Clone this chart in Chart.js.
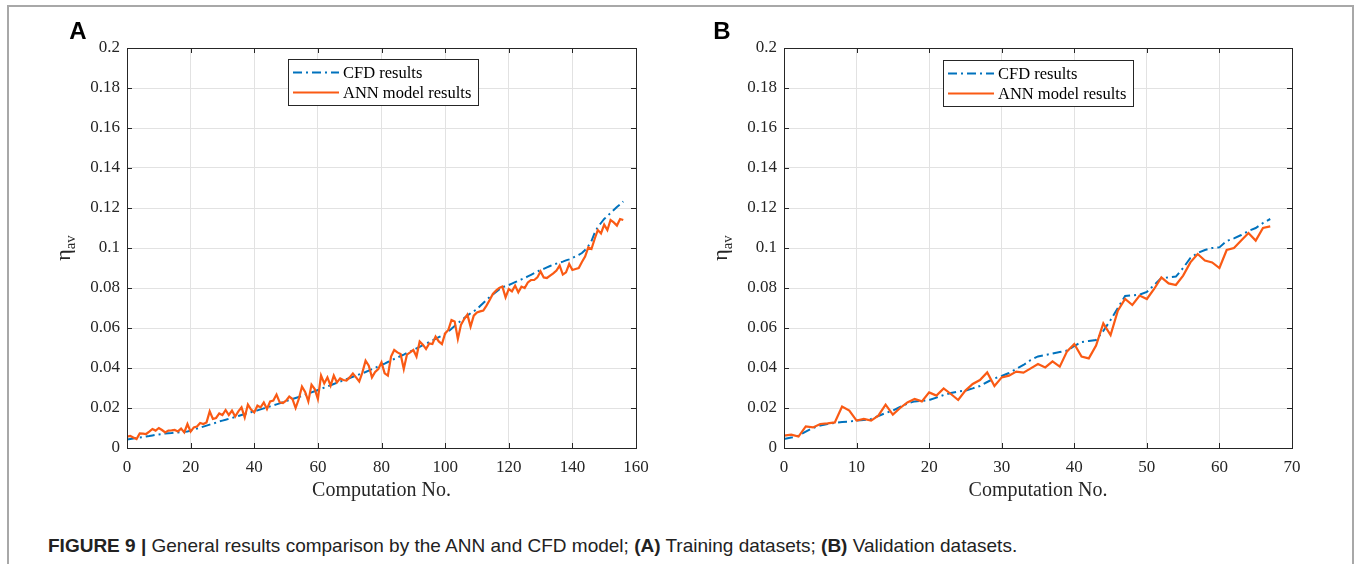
<!DOCTYPE html>
<html>
<head>
<meta charset="utf-8">
<script src="https://cdn.jsdelivr.net/npm/chart.js@4.4.1/dist/chart.umd.min.js"></script>
<style>
  body { margin: 0; background: #fff; width: 1356px; height: 564px; overflow: hidden; position: relative; font-family: "Liberation Sans", Arial, sans-serif; }
  #frame { position: absolute; left: 7px; top: 5px; width: 1343px; height: 620px; border: 2px solid #a8a8a8; }
  #chartA { position: absolute; left: 0; top: 0; }
  #chartB { position: absolute; left: 680px; top: 0; }
  #caption { position: absolute; left: 48px; top: 535px; font-size: 19px; line-height: 22px; color: #222; white-space: nowrap; }
</style>
</head>
<body>
<div id="frame"></div>
<canvas id="chartA" width="680" height="520"></canvas>
<canvas id="chartB" width="676" height="520"></canvas>
<div id="caption"><b>FIGURE 9 |</b> General results comparison by the ANN and CFD model; <b>(A)</b> Training datasets; <b>(B)</b> Validation datasets.</div>

<script>
// Training datasets (panel A), computation no. 0..156
const cfdA = [
  0.0042, 0.0045, 0.0048, 0.0050, 0.0053, 0.0055, 0.0058, 0.0060, 0.0063, 0.0066,
  0.0068, 0.0070, 0.0072, 0.0074, 0.0075, 0.0077, 0.0078, 0.0080, 0.0081, 0.0083,
  0.0087, 0.0092, 0.0097, 0.0102, 0.0107, 0.0112, 0.0117, 0.0122, 0.0127, 0.0133,
  0.0137, 0.0141, 0.0146, 0.0150, 0.0155, 0.0160, 0.0165, 0.0170, 0.0175, 0.0179,
  0.0183, 0.0188, 0.0193, 0.0198, 0.0203, 0.0208, 0.0213, 0.0218, 0.0223, 0.0229,
  0.0235, 0.0240, 0.0245, 0.0250, 0.0255, 0.0260, 0.0266, 0.0272, 0.0278, 0.0284,
  0.0290, 0.0296, 0.0302, 0.0308, 0.0314, 0.0320, 0.0326, 0.0332, 0.0338, 0.0344,
  0.0350, 0.0356, 0.0362, 0.0368, 0.0374, 0.0380, 0.0387, 0.0394, 0.0401, 0.0408,
  0.0415, 0.0422, 0.0430, 0.0437, 0.0445, 0.0452, 0.0460, 0.0467, 0.0475, 0.0482,
  0.0490, 0.0498, 0.0506, 0.0514, 0.0522, 0.0530, 0.0538, 0.0546, 0.0554, 0.0562,
  0.0570, 0.0583, 0.0596, 0.0610, 0.0624, 0.0637, 0.0650, 0.0662, 0.0674, 0.0684,
  0.0694, 0.0710, 0.0725, 0.0740, 0.0755, 0.0768, 0.0780, 0.0793, 0.0803, 0.0810,
  0.0815, 0.0822, 0.0829, 0.0836, 0.0843, 0.0850, 0.0858, 0.0866, 0.0874, 0.0882,
  0.0890, 0.0896, 0.0903, 0.0910, 0.0917, 0.0922, 0.0927, 0.0932, 0.0938, 0.0943,
  0.0950, 0.0958, 0.0966, 0.0975, 0.0990, 0.1010, 0.1035, 0.1075, 0.1105, 0.1125,
  0.1145, 0.1160, 0.1175, 0.1190, 0.1205, 0.1218, 0.1233
];
const annA = [
  0.0057, 0.0060, 0.0052, 0.0045, 0.0073, 0.0072, 0.0070, 0.0082, 0.0095, 0.0087,
  0.0100, 0.0090, 0.0078, 0.0087, 0.0088, 0.0090, 0.0083, 0.0097, 0.0078, 0.0120,
  0.0082, 0.0103, 0.0107, 0.0125, 0.0120, 0.0128, 0.0183, 0.0145, 0.0150, 0.0173,
  0.0165, 0.0190, 0.0165, 0.0187, 0.0157, 0.0183, 0.0203, 0.0153, 0.0217, 0.0192,
  0.0178, 0.0212, 0.0203, 0.0228, 0.0195, 0.0233, 0.0237, 0.0267, 0.0228, 0.0225,
  0.0237, 0.0257, 0.0245, 0.0200, 0.0245, 0.0307, 0.0280, 0.0233, 0.0317, 0.0295,
  0.0245, 0.0362, 0.0323, 0.0353, 0.0312, 0.0362, 0.0328, 0.0348, 0.0340, 0.0337,
  0.0353, 0.0373, 0.0353, 0.0333, 0.0378, 0.0437, 0.0412, 0.0353, 0.0380, 0.0395,
  0.0428, 0.0373, 0.0362, 0.0457, 0.0490, 0.0478, 0.0470, 0.0395, 0.0467, 0.0478,
  0.0490, 0.0457, 0.0533, 0.0517, 0.0495, 0.0523, 0.0520, 0.0557, 0.0533, 0.0520,
  0.0573, 0.0590, 0.0640, 0.0633, 0.0545, 0.0617, 0.0645, 0.0667, 0.0607, 0.0662,
  0.0678, 0.0683, 0.0687, 0.0712, 0.0740, 0.0770, 0.0787, 0.0800, 0.0807, 0.0753,
  0.0795, 0.0783, 0.0812, 0.0778, 0.0807, 0.0800, 0.0828, 0.0840, 0.0840, 0.0853,
  0.0883, 0.0853, 0.0850, 0.0862, 0.0873, 0.0887, 0.0912, 0.0867, 0.0878, 0.0920,
  0.0890, 0.0895, 0.0900, 0.0930, 0.0957, 0.1003, 0.0995, 0.1045, 0.1090, 0.1073,
  0.1117, 0.1090, 0.1140, 0.1128, 0.1112, 0.1145, 0.1140
];

// Validation datasets (panel B), computation no. 0..67
const cfdB = [
  0.0045, 0.0052, 0.0062, 0.0082, 0.0100, 0.0112, 0.0120, 0.0126, 0.0130, 0.0132,
  0.0137, 0.0140, 0.0145, 0.0160, 0.0175, 0.0187, 0.0205, 0.0222, 0.0233, 0.0236,
  0.0240, 0.0252, 0.0265, 0.0275, 0.0282, 0.0287, 0.0298, 0.0310, 0.0330, 0.0348,
  0.0360, 0.0375, 0.0395, 0.0415, 0.0440, 0.0458, 0.0465, 0.0472, 0.0480, 0.0487,
  0.0510, 0.0530, 0.0535, 0.0540, 0.0585, 0.0640, 0.0700, 0.0760, 0.0763, 0.0767,
  0.0780, 0.0815, 0.0850, 0.0853, 0.0857, 0.0900, 0.0950, 0.0975, 0.0990, 0.1000,
  0.1003, 0.1035, 0.1048, 0.1065, 0.1085, 0.1100, 0.1125, 0.1145
];
const annB = [
  0.0062, 0.0067, 0.0057, 0.0108, 0.0103, 0.0120, 0.0123, 0.0128, 0.0207, 0.0187,
  0.0137, 0.0145, 0.0137, 0.0162, 0.0217, 0.0167, 0.0200, 0.0228, 0.0245, 0.0233,
  0.0278, 0.0262, 0.0298, 0.0270, 0.0240, 0.0287, 0.0320, 0.0340, 0.0378, 0.0310,
  0.0353, 0.0362, 0.0382, 0.0377, 0.0398, 0.0420, 0.0403, 0.0433, 0.0407, 0.0483,
  0.0520, 0.0457, 0.0448, 0.0512, 0.0623, 0.0565, 0.0687, 0.0745, 0.0715, 0.0762,
  0.0745, 0.0795, 0.0853, 0.0823, 0.0815, 0.0862, 0.0928, 0.0970, 0.0937, 0.0928,
  0.0900, 0.0990, 0.1000, 0.1037, 0.1075, 0.1037, 0.1100, 0.1108
];

const seriesLabels = ['CFD results', 'ANN model results'];
const xTitle = 'Computation No.';

const serif = '"Liberation Serif", "Times New Roman", serif';
const axisColor = '#262626';

// MATLAB-style box, inward ticks, legend, axis titles and panel letter
const panelPlugin = {
    id: 'panel',
    afterDraw(chart, args, o) {
        const { ctx, chartArea: a, scales: { x, y } } = chart;
        ctx.save();

        ctx.strokeStyle = axisColor;
        ctx.lineWidth = 1;
        ctx.beginPath();
        x.ticks.forEach(t => {
            const p = Math.round(x.getPixelForValue(t.value)) + 0.5;
            ctx.moveTo(p, a.bottom); ctx.lineTo(p, a.bottom - 5);
            ctx.moveTo(p, a.top); ctx.lineTo(p, a.top + 5);
        });
        y.ticks.forEach(t => {
            const p = Math.round(y.getPixelForValue(t.value)) + 0.5;
            ctx.moveTo(a.left, p); ctx.lineTo(a.left + 5, p);
            ctx.moveTo(a.right, p); ctx.lineTo(a.right - 5, p);
        });
        ctx.stroke();
        ctx.strokeRect(Math.round(a.left) + 0.5, Math.round(a.top) + 0.5, Math.round(a.width), Math.round(a.height));

        // legend
        const L = o.legend;
        ctx.fillStyle = '#fff';
        ctx.fillRect(L.x, L.y, L.w, L.h);
        ctx.strokeStyle = axisColor;
        ctx.strokeRect(L.x + 0.5, L.y + 0.5, L.w, L.h);
        chart.data.datasets.forEach((ds, i) => {
            const ry = L.y + 13.5 + i * 20;
            ctx.beginPath();
            ctx.setLineDash(ds.borderDash || []);
            ctx.strokeStyle = ds.borderColor;
            ctx.lineWidth = ds.borderWidth;
            ctx.moveTo(L.x + 5, ry);
            ctx.lineTo(L.x + 51, ry);
            ctx.stroke();
            ctx.setLineDash([]);
            ctx.fillStyle = '#000';
            ctx.font = '16.5px ' + serif;
            ctx.textAlign = 'left';
            ctx.textBaseline = 'middle';
            ctx.fillText(ds.label, L.x + 55, ry + 1);
        });

        // x axis title
        ctx.fillStyle = axisColor;
        ctx.font = '20px ' + serif;
        ctx.textAlign = 'center';
        ctx.textBaseline = 'middle';
        ctx.fillText(xTitle, (a.left + a.right) / 2, 491);

        // y axis title: eta with "av" subscript
        ctx.save();
        ctx.translate(o.yTitleX, (a.top + a.bottom) / 2);
        ctx.rotate(-Math.PI / 2);
        ctx.textBaseline = 'alphabetic';
        ctx.textAlign = 'left';
        ctx.font = '22px ' + serif;
        const wEta = ctx.measureText('η').width;
        ctx.font = '15px ' + serif;
        const wSub = ctx.measureText('av').width;
        const x0 = -(wEta + wSub) / 2;
        ctx.font = '22px ' + serif;
        ctx.fillText('η', x0, 0);
        ctx.font = '15px ' + serif;
        ctx.fillText('av', x0 + wEta, 5);
        ctx.restore();

        // panel letter
        ctx.fillStyle = '#000';
        ctx.font = 'bold 24px "Liberation Sans", Arial, sans-serif';
        ctx.textAlign = 'center';
        ctx.textBaseline = 'middle';
        ctx.fillText(o.letter, o.letterX, 32);

        ctx.restore();
    }
};

function makePanel(id, cfd, ann, p) {
    const ctx = document.getElementById(id).getContext('2d');
    return new Chart(ctx, {
        type: 'line',
        data: {
            datasets: [{
                label: seriesLabels[0],
                data: cfd.map((v, i) => ({ x: i, y: v })),
                borderColor: '#0072BD',
                borderWidth: 2,
                borderDash: [9, 4, 2, 4],
                pointRadius: 0,
                tension: 0,
                order: 1
            }, {
                label: seriesLabels[1],
                data: ann.map((v, i) => ({ x: i, y: v })),
                borderColor: '#FA5A14',
                borderWidth: 2.2,
                pointRadius: 0,
                tension: 0,
                order: 0
            }]
        },
        options: {
            responsive: false,
            animation: false,
            layout: { padding: { left: 0, top: 48, right: p.padRight, bottom: 42 } },
            plugins: {
                legend: { display: false },
                tooltip: { enabled: false },
                panel: p
            },
            scales: {
                x: {
                    type: 'linear',
                    min: 0,
                    max: p.xMax,
                    ticks: { stepSize: p.xStep, color: axisColor, font: { family: serif, size: 17 }, padding: 9, maxRotation: 0, autoSkip: false },
                    grid: { color: '#e2e2e2', drawTicks: false },
                    border: { display: false },
                    afterFit: s => { s.height = 30; }
                },
                y: {
                    min: 0,
                    max: 0.2,
                    ticks: {
                        stepSize: 0.02,
                        color: axisColor,
                        font: { family: serif, size: 17 },
                        padding: 7,
                        callback: v => String(parseFloat(v.toFixed(2)))
                    },
                    grid: { color: '#e2e2e2', drawTicks: false },
                    border: { display: false },
                    afterFit: s => { s.width = p.axisLeft; }
                }
            }
        },
        plugins: [panelPlugin]
    });
}

makePanel('chartA', cfdA, annA, {
    xMax: 160, xStep: 20, axisLeft: 127, padRight: 44,
    legend: { x: 288, y: 59, w: 190, h: 46 },
    yTitleX: 70, letter: 'A', letterX: 78
});
makePanel('chartB', cfdB, annB, {
    xMax: 70, xStep: 10, axisLeft: 104, padRight: 64,
    legend: { x: 263, y: 60, w: 190, h: 46 },
    yTitleX: 47, letter: 'B', letterX: 42
});
</script>
</body>
</html>
